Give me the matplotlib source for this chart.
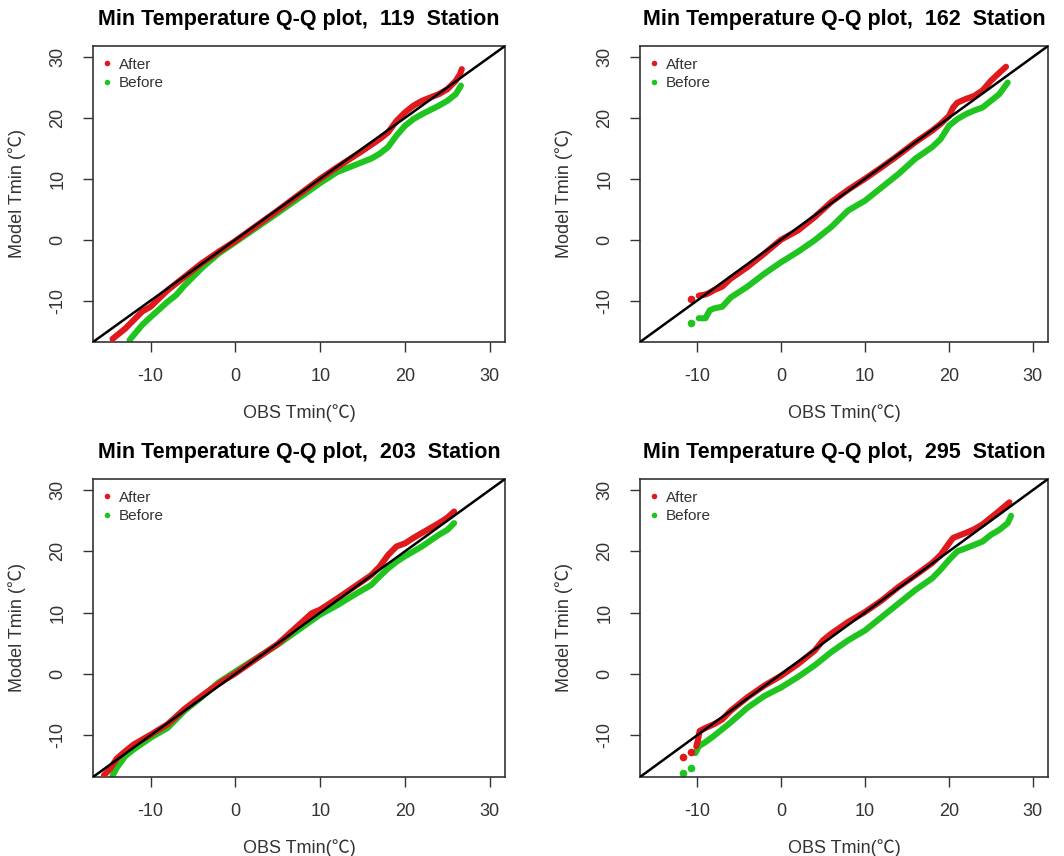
import matplotlib
matplotlib.use("Agg")
import matplotlib.pyplot as plt

plt.rcParams['font.family'] = ['Liberation Sans', 'Noto Sans CJK SC', 'DejaVu Sans']
plt.rcParams['axes.unicode_minus'] = False

# ---------------- data ----------------
stations = ["119", "162", "203", "295"]

# Station 119
obs_119_after = [-14.5, -13, -11, -10, -8, -6, -4, -2, 0, 5, 10, 12, 15, 17, 18, 19, 20, 21, 22, 24, 25, 26, 26.5, 26.7]
mod_119_after = [-16.3, -14.6, -11.8, -11.0, -8.3, -6.1, -3.9, -2.0, -0.2, 4.8, 10.0, 11.9, 14.6, 16.5, 17.6, 19.5, 20.9, 22.0, 22.8, 23.9, 24.7, 26.1, 27.2, 28.0]
obs_119_before = [-12.5, -11, -10, -8, -7, -6, -4, -2, 0, 5, 10, 12, 14, 16, 17, 18, 19, 20, 21, 22, 24, 25, 26, 26.6]
mod_119_before = [-16.5, -14.0, -12.7, -10.2, -9.1, -7.5, -4.7, -2.3, -0.4, 4.4, 9.3, 11.1, 12.2, 13.3, 14.1, 15.2, 17.1, 18.7, 19.8, 20.6, 22.0, 22.8, 23.9, 25.3]
tail_obs_119_after, tail_mod_119_after = [], []
tail_obs_119_before, tail_mod_119_before = [], []

# Station 162
obs_162_after = [-9.8, -9, -8.5, -8, -7, -6, -4, -2, 0, 2, 4, 6, 8, 10, 12, 14, 16, 18, 19, 20, 20.5, 21, 22, 23, 24, 25, 26, 26.8]
mod_162_after = [-9.2, -9.0, -8.7, -8.3, -7.7, -6.4, -4.5, -2.3, 0.0, 1.5, 3.7, 6.2, 8.2, 10.0, 11.9, 13.9, 16.0, 17.9, 19.0, 20.3, 21.7, 22.5, 23.1, 23.6, 24.5, 26.1, 27.4, 28.4]
obs_162_before = [-9.8, -9, -8.5, -8, -7, -6, -4, -2, 0, 2, 4, 6, 8, 10, 12, 14, 16, 18, 19, 20, 21, 22, 23, 24, 25, 26, 27]
mod_162_before = [-12.9, -12.9, -11.6, -11.3, -11.0, -9.5, -7.7, -5.6, -3.7, -2.0, -0.1, 2.1, 4.8, 6.4, 8.6, 10.8, 13.3, 15.2, 16.5, 18.7, 19.8, 20.6, 21.2, 21.7, 22.8, 23.9, 25.8]
tail_obs_162_after, tail_mod_162_after = [-10.75], [-9.66]
tail_obs_162_before, tail_mod_162_before = [-10.75], [-13.6]

# Station 203
obs_203_after = [-15.5, -14.8, -14, -13, -12, -10, -8, -6, -4, -2, 0, 5, 9, 10, 12, 14, 16, 17, 18, 19, 20, 21, 22, 23, 24, 25, 25.8]
mod_203_after = [-16.5, -15.5, -13.8, -12.6, -11.5, -9.9, -8.2, -5.7, -3.6, -1.6, 0.1, 4.9, 9.9, 10.5, 12.3, 14.2, 16.1, 17.5, 19.4, 20.8, 21.3, 22.2, 23.0, 23.8, 24.6, 25.5, 26.5]
obs_203_before = [-14.5, -14, -13, -12, -10, -8, -6, -4, -2, 0, 5, 10, 12, 14, 16, 17, 18, 19, 20, 22, 24, 25, 25.8]
mod_203_before = [-16.6, -15.3, -13.4, -12.3, -10.4, -8.8, -6.0, -3.8, -1.4, 0.4, 4.8, 9.7, 11.2, 12.9, 14.5, 15.9, 17.2, 18.3, 19.2, 20.8, 22.7, 23.5, 24.6]
tail_obs_203_after, tail_mod_203_after = [], []
tail_obs_203_before, tail_mod_203_before = [], []

# Station 295
obs_295_after = [-10.1, -9.9, -9.7, -9, -8, -7, -6, -4, -2, 0, 2, 4, 5, 6, 8, 10, 12, 14, 16, 18, 19, 20, 20.5, 22, 23, 24, 25, 26, 27.2]
mod_295_after = [-11.8, -10.8, -9.3, -8.8, -8.2, -7.4, -6.0, -3.8, -1.9, -0.3, 1.6, 3.8, 5.5, 6.6, 8.5, 10.1, 12.0, 14.2, 16.1, 18.1, 19.4, 21.3, 22.2, 23.0, 23.6, 24.4, 25.5, 26.6, 28.0]
obs_295_before = [-10.2, -9.8, -9, -8, -7, -6, -4, -2, 0, 2, 4, 6, 8, 10, 12, 14, 16, 18, 19, 20, 21, 22, 24, 25, 26, 27, 27.4]
mod_295_before = [-12.9, -11.8, -11.1, -10.1, -9.0, -7.9, -5.5, -3.6, -2.2, -0.5, 1.4, 3.6, 5.5, 7.1, 9.3, 11.5, 13.7, 15.6, 17.0, 18.6, 20.0, 20.5, 21.6, 22.7, 23.5, 24.6, 25.8]
tail_obs_295_after, tail_mod_295_after = [-11.7, -10.7], [-13.5, -12.8]
tail_obs_295_before, tail_mod_295_before = [-11.7, -10.7], [-16.1, -15.4]

ticks = [-10, 0, 10, 20, 30]
data_range = (-15, 30)
x_label = "OBS Tmin(℃)"
y_label = "Model Tmin (℃)"

panels = {
    "119": (obs_119_after, mod_119_after, obs_119_before, mod_119_before,
            tail_obs_119_after, tail_mod_119_after, tail_obs_119_before, tail_mod_119_before),
    "162": (obs_162_after, mod_162_after, obs_162_before, mod_162_before,
            tail_obs_162_after, tail_mod_162_after, tail_obs_162_before, tail_mod_162_before),
    "203": (obs_203_after, mod_203_after, obs_203_before, mod_203_before,
            tail_obs_203_after, tail_mod_203_after, tail_obs_203_before, tail_mod_203_before),
    "295": (obs_295_after, mod_295_after, obs_295_before, mod_295_before,
            tail_obs_295_after, tail_mod_295_after, tail_obs_295_before, tail_mod_295_before),
}

# ---------------- figure ----------------
W, H = 1064, 856
fig = plt.figure(figsize=(W / 100, H / 100), dpi=100)

# axes boxes in pixels: left, top, right, bottom
boxes = {
    "119": (93, 46, 505, 342),
    "162": (640, 46, 1048, 342),
    "203": (93, 479, 505, 777),
    "295": (640, 479, 1048, 777),
}

RED = '#e01a1c'
GREEN = '#1fc41f'
TXT = '#333333'
FAM = ['Liberation Sans', 'Noto Sans CJK SC', 'DejaVu Sans']

pad = 0.04 * (data_range[1] - data_range[0])
lim = (data_range[0] - pad, data_range[1] + pad)

for st in stations:
    l, t, r, b = boxes[st]
    ax = fig.add_axes([l / W, 1 - b / H, (r - l) / W, (b - t) / H])
    oa, ma, ob, mb, toa, tma, tob, tmb = panels[st]

    ax.plot(ob, mb, '-', color=GREEN, lw=4.4, solid_capstyle='round', solid_joinstyle='round', zorder=2)
    ax.plot(tob, tmb, 'o', color=GREEN, ms=5.5, mec='none', zorder=2)
    ax.plot(oa, ma, '-', color=RED, lw=4.4, solid_capstyle='round', solid_joinstyle='round', zorder=3)
    ax.plot(toa, tma, 'o', color=RED, ms=5.5, mec='none', zorder=3)
    ax.plot(lim, lim, '-', color='black', lw=1.8, zorder=4)

    ax.set_xlim(lim)
    ax.set_ylim(lim)
    ax.set_xticks(ticks)
    ax.set_yticks(ticks)
    ax.tick_params(direction='out', length=7, width=1.0, color='#333333',
                   labelsize=13, labelcolor=TXT, pad=12)
    for lab in ax.get_yticklabels():
        lab.set_rotation(90)
        lab.set_va('center')
    for sp in ax.spines.values():
        sp.set_linewidth(1.2)
        sp.set_color('#333333')

    ax.set_title(f"Min Temperature Q-Q plot,  {st}  Station", fontsize=15.5,
                 fontweight='bold', pad=15, color='black')
    ax.set_xlabel(x_label, fontsize=13, color=TXT, family=FAM)
    ax.xaxis.set_label_coords(0.5, -0.21)
    ax.text(-0.185, 0.5, y_label, transform=ax.transAxes, rotation=90,
            ha='center', va='center', fontsize=13, color=TXT, family=FAM)

    h1, = ax.plot([], [], 'o', color=RED, ms=4, mec='none', label='After')
    h2, = ax.plot([], [], 'o', color=GREEN, ms=4, mec='none', label='Before')
    leg = ax.legend(handles=[h1, h2], loc='upper left', bbox_to_anchor=(0.0, 0.986),
                    frameon=False, fontsize=11,
                    handlelength=0.8, handletextpad=0.4, borderaxespad=0.2,
                    labelspacing=0.3, borderpad=0.3)
    for txt in leg.get_texts():
        txt.set_color(TXT)

fig.savefig("out.png", dpi=100)
